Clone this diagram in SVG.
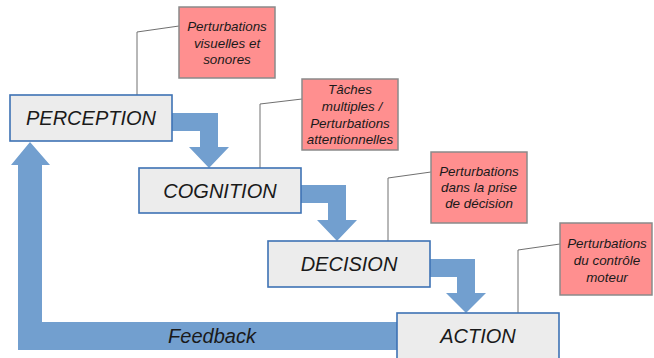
<svg xmlns="http://www.w3.org/2000/svg" width="654" height="358" viewBox="0 0 654 358">
<style>
.node rect{fill:#ececec;stroke:#3e72b4;stroke-width:1.6}
.node text{font-family:"Liberation Sans",Arial,sans-serif;font-style:italic;font-size:20px;fill:#1a1a1a;text-anchor:middle}
.note rect{fill:#ff8f8f;stroke:#8a8a8a;stroke-width:1.5}
.note text{font-family:"Liberation Sans",Arial,sans-serif;font-style:italic;font-size:13.4px;fill:#1a1a1a;text-anchor:middle}
.arrow{fill:#729fcf;stroke:none}
.leader{fill:none;stroke:#707070;stroke-width:1}
.lbl{font-family:"Liberation Sans",Arial,sans-serif;font-style:italic;font-size:20px;fill:#1a1a1a;text-anchor:middle}
</style>
<rect width="654" height="358" fill="#ffffff"/>
<g id="connectors">
<polygon class="arrow" points="172,113 218,113 218,147 229,147 209,168 189,147 200,147 200,131 172,131"/>
<polygon class="arrow" points="301,185 346,185 346,220 357,220 337,241 317,220 328,220 328,203 301,203"/>
<polygon class="arrow" points="430,259 475,259 475,293 486,293 466,313 446,293 457,293 457,277 430,277"/>
<polygon class="arrow" points="397,322 42,322 42,165 50,165 30,142 11,165 18,165 18,350 397,350"/>
<text class="lbl" x="212" y="343">Feedback</text>
<polyline class="leader" points="179,26 137,32 137,95"/>
<polyline class="leader" points="302,99 260,104 260,168"/>
<polyline class="leader" points="431,172 388,178 388,241"/>
<polyline class="leader" points="560,244 518,250 518,313"/>
</g>
<g id="perception" class="node">
<rect x="10" y="95" width="162" height="46"/>
<text x="91" y="125">PERCEPTION</text>
</g>
<g id="cognition" class="node">
<rect x="139" y="168" width="162" height="45"/>
<text x="220" y="198">COGNITION</text>
</g>
<g id="decision" class="node">
<rect x="268" y="241" width="162" height="46"/>
<text x="349" y="271">DECISION</text>
</g>
<g id="action" class="node">
<rect x="397" y="313" width="162" height="50"/>
<text x="478" y="343">ACTION</text>
</g>
<g id="note1" class="note">
<rect x="179" y="7" width="96" height="71"/>
<text x="227" y="31">Perturbations</text>
<text x="227" y="48">visuelles et</text>
<text x="227" y="64">sonores</text>
</g>
<g id="note2" class="note">
<rect x="302" y="79" width="96" height="71"/>
<text x="350" y="94">Tâches</text>
<text x="352" y="111">multiples /</text>
<text x="350" y="128">Perturbations</text>
<text x="350" y="144">attentionnelles</text>
</g>
<g id="note3" class="note">
<rect x="431" y="152" width="96" height="71"/>
<text x="479" y="176">Perturbations</text>
<text x="479" y="192">dans la prise</text>
<text x="479" y="208">de décision</text>
</g>
<g id="note4" class="note">
<rect x="560" y="223" width="92" height="72"/>
<text x="607" y="248">Perturbations</text>
<text x="607" y="265">du contrôle</text>
<text x="607" y="282">moteur</text>
</g>
</svg>
